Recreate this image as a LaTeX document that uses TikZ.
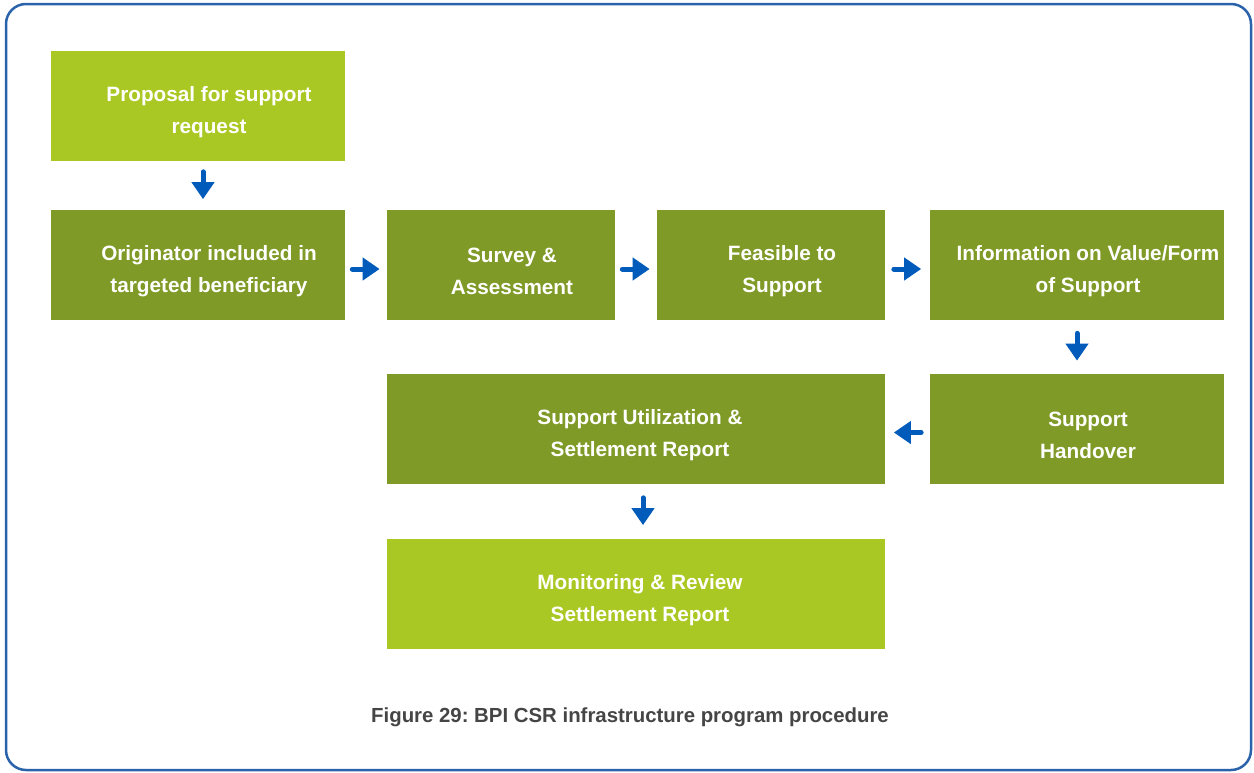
\documentclass[tikz,border=0pt]{standalone}
\usepackage{fontspec}
\setmainfont{Liberation Sans}
\usetikzlibrary{arrows.meta}
\definecolor{limegreen}{HTML}{AAC823}
\definecolor{olivegreen}{HTML}{7F9A27}
\definecolor{flowblue}{HTML}{005BBB}
\definecolor{frameblue}{HTML}{2A62AC}
\definecolor{captiongray}{HTML}{454545}
\frenchspacing

\begin{document}
\begin{tikzpicture}[x=0.2mm,y=-0.2mm,
  stepbox/.style={fill=olivegreen,minimum height=22mm,inner sep=0pt},
  endbox/.style={stepbox,fill=limegreen},
  boxtext/.style={text=white,align=center,inner sep=0pt,xshift=2.2mm,yshift=-1.2mm,font=\fontsize{11.8}{18.2}\selectfont\bfseries},
  widetext/.style={boxtext,xshift=-1.4mm},
  flow/.style={draw=flowblue,line width=1mm,line cap=round,-{Triangle[length=3.4mm,width=4.4mm]}},
  flowgap/.style={shorten <=#1,shorten >=#1}]
\useasboundingbox (0,0) rectangle (1254,773);
\draw[frameblue,line width=0.5mm,rounded corners=4mm] (6,4) rectangle (1251,770);

% procedure steps
\node[endbox,minimum width=58.8mm,label={[boxtext]center:Proposal for support\\request}] (proposal) at (198,106) {};
\node[stepbox,minimum width=58.8mm,label={[boxtext]center:Originator included in\\targeted beneficiary}] (originator) at (198,265) {};
\node[stepbox,minimum width=45.6mm,label={[boxtext]center:Survey \&\\Assessment}] (survey) at (501,265) {};
\node[stepbox,minimum width=45.6mm,label={[boxtext]center:Feasible to\\Support}] (feasible) at (771,265) {};
\node[stepbox,minimum width=58.8mm,label={[boxtext]center:Information on Value/Form\\of Support}] (information) at (1077,265) {};
\node[stepbox,minimum width=58.8mm,label={[boxtext]center:Support\\Handover}] (handover) at (1077,429) {};
\node[stepbox,minimum width=99.6mm,label={[widetext]center:Support Utilization \&\\Settlement Report}] (utilization) at (636,429) {};
\node[endbox,minimum width=99.6mm,label={[widetext]center:Monitoring \& Review\\Settlement Report}] (monitoring) at (636,594) {};

% arrows between steps
\draw[flow,flowgap=2.1mm] ([xshift=1mm]proposal.south) -- ([xshift=1mm]originator.north);
\draw[flow,flowgap=1.4mm] ([yshift=-0.8mm]originator.east) -- ([yshift=-0.8mm]survey.west);
\draw[flow,flowgap=1.4mm] ([yshift=-0.8mm]survey.east) -- ([yshift=-0.8mm]feasible.west);
\draw[flow,flowgap=1.7mm] ([yshift=-0.8mm]feasible.east) -- ([yshift=-0.8mm]information.west);
\draw[flow,flowgap=2.6mm] (information) -- (handover);
\draw[flow,flowgap=1.7mm] ([yshift=-0.7mm]handover.west) -- ([yshift=-0.7mm]utilization.east);
\draw[flow,flowgap=2.7mm] ([xshift=1.4mm]utilization.south) -- ([xshift=1.4mm]monitoring.north);

% caption
\node[text=captiongray,font=\fontsize{11.6}{14}\selectfont\bfseries] (caption) at (630,717) {Figure 29: BPI CSR infrastructure program procedure};
\end{tikzpicture}
\end{document}
